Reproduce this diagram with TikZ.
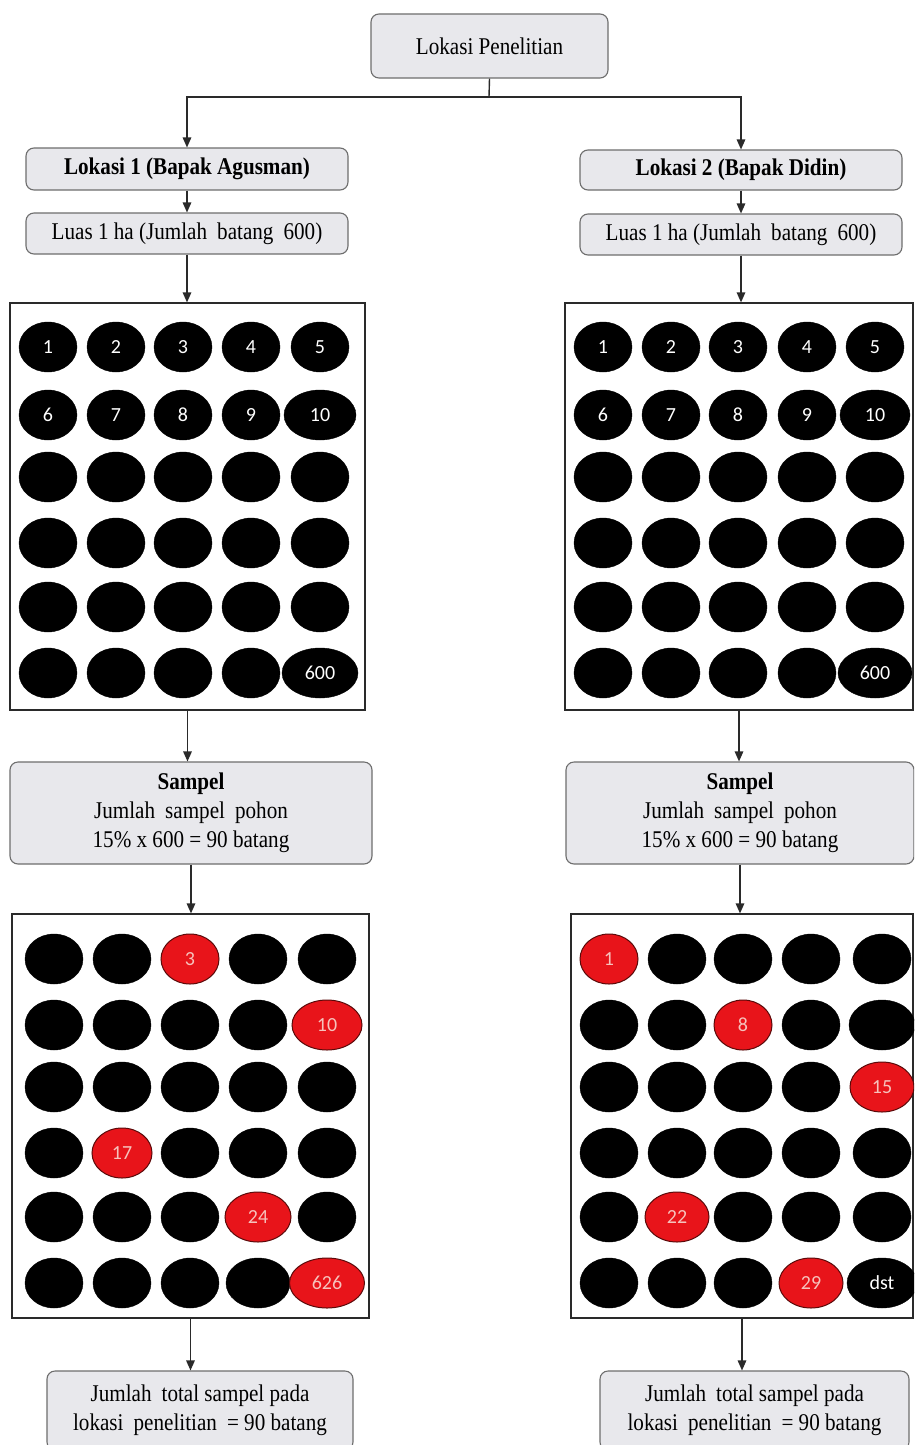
\documentclass[tikz,border=0pt]{standalone}
\usepackage{fontspec}
\setmainfont{Liberation Serif}[FakeStretch=0.88]
\newfontfamily\cellfam{Carlito}
\usetikzlibrary{shapes.geometric,arrows.meta}
\definecolor{boxfill}{HTML}{E8E8EC}
\definecolor{boxline}{HTML}{6E6E6E}
\definecolor{cellred}{HTML}{E8141A}
\definecolor{redline}{HTML}{5A0A0A}
\definecolor{redtext}{HTML}{F6C2BC}
\definecolor{linecol}{HTML}{2A2A2A}
\newcommand\gap{\hspace{0.42em}}
\newcommand\gridrow[4]{%
  \foreach \sty/\wid/\lab [count=\cc] in {#4} {%
    \pgfmathsetmacro\xx{#2[\cc-1]}%
    \node[\sty, minimum width=\wid] (#1-\cc) at (\xx,#3) {\lab};
  }}
\def\colA{{48,116,183,251,320}}
\def\colB{{603,671,738,807,875}}
\def\colC{{54,122,190,258,327}}
\def\colD{{609,677,743,811,882}}
\begin{document}
\begin{tikzpicture}[x=1pt,y=-1pt,
  rbox/.style={draw=boxline, fill=boxfill, line width=1.1pt, rounded corners=8pt, inner sep=0pt, align=center, font=\fontsize{24}{29}\selectfont},
  gridbox/.style={draw=linecol, fill=white, line width=1.2pt, inner sep=0pt},
  blk/.style={ellipse, fill=black, draw=black, inner sep=0pt, minimum height=50pt, text=white, font=\cellfam\fontsize{20}{23}\selectfont},
  redc/.style={blk, fill=cellred, draw=redline, line width=1pt, text=redtext},
  conn/.style={draw=linecol, line width=1.4pt},
  arr/.style={conn, -{Triangle[length=10pt,width=8.5pt]}}]
\useasboundingbox (0,0) rectangle (914,1445);
\clip (0,0) rectangle (914,1445);
\fill[white] (0,0) rectangle (914,1445);

% top
\node[rbox, minimum width=237pt, minimum height=64pt] (top) at (489.5,46) {Lokasi Penelitian};
\coordinate (split) at (489,97);

% left column boxes
\node[rbox, minimum width=322pt, minimum height=42pt, font=\bfseries\fontsize{24}{29}\selectfont] (lok1) at (187,169) {Lokasi 1 (Bapak Agusman)};
\node[rbox, minimum width=322pt, minimum height=41pt] (luas1) at (187,233.5) {Luas 1 ha (Jumlah\gap batang\gap 600)};
\node[gridbox, minimum width=355pt, minimum height=407pt] (g1) at (187.5,506.5) {};
\node[rbox, minimum width=362pt, minimum height=102pt] (s1) at (191,813) {\textbf{Sampel}\\Jumlah\gap sampel\gap pohon\\15\% x 600 = 90 batang};
\node[gridbox, minimum width=357pt, minimum height=404pt] (h1) at (190.5,1116) {};
\node[rbox, minimum width=306pt, minimum height=79pt] (f1) at (200,1410.5) {Jumlah\gap total sampel pada\\lokasi\gap penelitian\gap = 90 batang};

% right column boxes
\node[rbox, minimum width=322pt, minimum height=40pt, font=\bfseries\fontsize{24}{29}\selectfont] (lok2) at (741,170) {Lokasi 2 (Bapak Didin)};
\node[rbox, minimum width=322pt, minimum height=41pt] (luas2) at (741,234.5) {Luas 1 ha (Jumlah\gap batang\gap 600)};
\node[gridbox, minimum width=348pt, minimum height=407pt] (g2) at (739,506.5) {};
\node[rbox, minimum width=348pt, minimum height=102pt] (s2) at (740,813) {\textbf{Sampel}\\Jumlah\gap sampel\gap pohon\\15\% x 600 = 90 batang};
\node[gridbox, minimum width=342pt, minimum height=404pt] (h2) at (742,1116) {};
\node[rbox, minimum width=309pt, minimum height=79pt] (f2) at (754.5,1410.5) {Jumlah\gap total sampel pada\\lokasi\gap penelitian\gap = 90 batang};

% grid 1 (left, all trees)
\gridrow{ga1}{\colA}{347}{blk/58/1,blk/58/2,blk/58/3,blk/58/4,blk/58/5}
\gridrow{ga2}{\colA}{415}{blk/58/6,blk/58/7,blk/58/8,blk/58/9,blk/72/10}
\gridrow{ga3}{\colA}{477}{blk/58/{},blk/58/{},blk/58/{},blk/58/{},blk/58/{}}
\gridrow{ga4}{\colA}{543}{blk/58/{},blk/58/{},blk/58/{},blk/58/{},blk/58/{}}
\gridrow{ga5}{\colA}{607}{blk/58/{},blk/58/{},blk/58/{},blk/58/{},blk/58/{}}
\gridrow{ga6}{\colA}{673}{blk/58/{},blk/58/{},blk/58/{},blk/58/{},blk/76/600}

% grid 2 (right, all trees)
\gridrow{gb1}{\colB}{347}{blk/58/1,blk/58/2,blk/58/3,blk/58/4,blk/58/5}
\gridrow{gb2}{\colB}{415}{blk/58/6,blk/58/7,blk/58/8,blk/58/9,blk/70/10}
\gridrow{gb3}{\colB}{477}{blk/58/{},blk/58/{},blk/58/{},blk/58/{},blk/58/{}}
\gridrow{gb4}{\colB}{543}{blk/58/{},blk/58/{},blk/58/{},blk/58/{},blk/58/{}}
\gridrow{gb5}{\colB}{607}{blk/58/{},blk/58/{},blk/58/{},blk/58/{},blk/58/{}}
\gridrow{gb6}{\colB}{673}{blk/58/{},blk/58/{},blk/58/{},blk/58/{},blk/74/600}

% grid 3 (left, samples)
\gridrow{ha1}{\colC}{959}{blk/58/{},blk/58/{},redc/58/3,blk/58/{},blk/58/{}}
\gridrow{ha2}{\colC}{1025}{blk/58/{},blk/58/{},blk/58/{},blk/58/{},redc/70/10}
\gridrow{ha3}{\colC}{1087}{blk/58/{},blk/58/{},blk/58/{},blk/58/{},blk/58/{}}
\gridrow{ha4}{\colC}{1153}{blk/58/{},redc/60/17,blk/58/{},blk/58/{},blk/58/{}}
\gridrow{ha5}{\colC}{1217}{blk/58/{},blk/58/{},blk/58/{},redc/66/24,blk/58/{}}
\gridrow{ha6}{\colC}{1283}{blk/58/{},blk/58/{},blk/58/{},blk/64/{},redc/75/626}

% grid 4 (right, samples)
\gridrow{hb1}{\colD}{959}{redc/58/1,blk/58/{},blk/58/{},blk/58/{},blk/58/{}}
\gridrow{hb2}{\colD}{1025}{blk/58/{},blk/58/{},redc/58/8,blk/58/{},blk/66/{}}
\gridrow{hb3}{\colD}{1087}{blk/58/{},blk/58/{},blk/58/{},blk/58/{},redc/64/15}
\gridrow{hb4}{\colD}{1153}{blk/58/{},blk/58/{},blk/58/{},blk/58/{},blk/58/{}}
\gridrow{hb5}{\colD}{1217}{blk/58/{},redc/64/22,blk/58/{},blk/58/{},blk/58/{}}
\gridrow{hb6}{\colD}{1283}{blk/58/{},blk/58/{},blk/58/{},redc/64/29,blk/70/dst}

% connectors
\draw[conn] (top.south) -- (split);
\draw[arr] (split) -| (lok1.north);
\draw[arr] (split) -| (lok2.north);
\draw[arr] (lok1.south) -- (lok1.south |- luas1.north);
\draw[arr] (luas1.south) -- (luas1.south |- g1.north);
\draw[arr] (g1.south) -- (g1.south |- s1.north);
\draw[arr] (s1.south) -- (s1.south |- h1.north);
\draw[arr] (h1.south) -- (h1.south |- f1.north);
\draw[arr] (lok2.south) -- (lok2.south |- luas2.north);
\draw[arr] (luas2.south) -- (luas2.south |- g2.north);
\draw[arr] (g2.south) -- (g2.south |- s2.north);
\draw[arr] (s2.south) -- (s2.south |- h2.north);
\draw[arr] (h2.south) -- (h2.south |- f2.north);
\end{tikzpicture}
\end{document}
